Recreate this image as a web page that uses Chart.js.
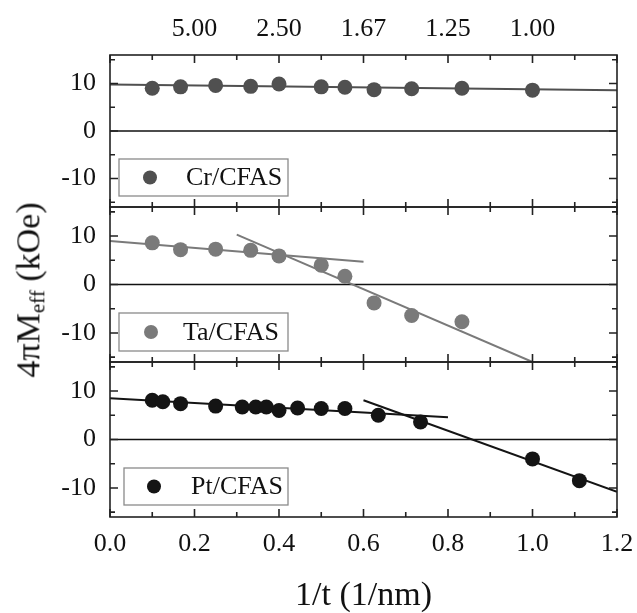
<!DOCTYPE html>
<html>
<head>
<meta charset="utf-8">
<script src="https://cdn.jsdelivr.net/npm/chart.js@4.4.1/dist/chart.umd.min.js"></script>
<style>
  body { margin: 0; background: #fff; }
  #wrap { position: relative; width: 637px; height: 613px; overflow: hidden; }
  canvas { position: absolute; left: 0; }
  #ytitle {
    position: absolute; left: 30px; top: 290px;
    transform: translate(-50%, -50%) rotate(-90deg);
    font: 34px "Liberation Serif", serif; color: #111; white-space: nowrap;
  }
  #ytitle sub { font-size: 0.62em; vertical-align: -0.25em; }
</style>
</head>
<body>
<div id="wrap">
  <canvas id="c1" width="637" height="212" style="top:0px"></canvas>
  <canvas id="c2" width="637" height="165" style="top:202px"></canvas>
  <canvas id="c3" width="637" height="256" style="top:357px"></canvas>
  <div id="ytitle">4πM<sub>eff</sub> (kOe)</div>
</div>
<script>
// data (x = 1/t in 1/nm, y = 4piMeff in kOe)
const crX = [0.1, 0.167, 0.25, 0.333, 0.4, 0.5, 0.556, 0.625, 0.714, 0.833, 1.0];
const crY = [9.0, 9.3, 9.6, 9.4, 9.9, 9.3, 9.2, 8.7, 8.9, 9.0, 8.6];
const crFitX = [0, 1.2];
const crFitY = [9.8, 8.6];

const taX = [0.1, 0.167, 0.25, 0.333, 0.4, 0.5, 0.556, 0.625, 0.714, 0.833];
const taY = [8.6, 7.2, 7.3, 7.05, 5.9, 4.0, 1.7, -3.8, -6.4, -7.7];
const taFit1X = [0, 0.6];
const taFit1Y = [9.0, 4.7];
const taFit2X = [0.3, 1.0];
const taFit2Y = [10.3, -16];

const ptX = [0.1, 0.125, 0.167, 0.25, 0.313, 0.345, 0.37, 0.4, 0.444, 0.5, 0.556, 0.635, 0.735, 1.0, 1.111];
const ptY = [8.1, 7.8, 7.4, 6.9, 6.7, 6.7, 6.7, 6.0, 6.5, 6.4, 6.4, 5.0, 3.6, -4.0, -8.5];
const ptFit1X = [0, 0.8];
const ptFit1Y = [8.5, 4.6];
const ptFit2X = [0.6, 1.2];
const ptFit2Y = [8.1, -10.8];

const xTicks = [0, 0.2, 0.4, 0.6, 0.8, 1.0, 1.2];
const xMinor = [0.1, 0.3, 0.5, 0.7, 0.9, 1.1];
const topTicks = [0.2, 0.4, 0.6, 0.8, 1.0];
const topLabels = ['5.00', '2.50', '1.67', '1.25', '1.00'];
const yTicks = [-10, 0, 10];
const yMinor = [-15, -5, 5, 15];

const serif = '"Liberation Serif", "Times New Roman", serif';
const pts = (xs, ys) => xs.map((x, i) => ({ x: x, y: ys[i] }));

// frame, inward ticks, zero line and legend box for each panel
const panelPlugin = {
  id: 'panel',
  beforeDatasetsDraw(chart) {
    const { ctx, chartArea: a, scales } = chart;
    const y0 = scales.y.getPixelForValue(0);
    ctx.save();
    ctx.strokeStyle = '#111';
    ctx.lineWidth = 1.6;
    ctx.beginPath();
    ctx.moveTo(a.left, y0);
    ctx.lineTo(a.right, y0);
    ctx.stroke();
    ctx.restore();
  },
  afterDatasetsDraw(chart, args, opts) {
    const { ctx, chartArea: a, scales } = chart;
    ctx.save();
    ctx.strokeStyle = '#222';
    ctx.lineWidth = 1.6;
    ctx.strokeRect(a.left, a.top, a.right - a.left, a.bottom - a.top);
    ctx.beginPath();
    const xt = (v, len) => {
      const px = scales.x.getPixelForValue(v);
      ctx.moveTo(px, a.top); ctx.lineTo(px, a.top + len);
      ctx.moveTo(px, a.bottom); ctx.lineTo(px, a.bottom - len);
    };
    const yt = (v, len) => {
      const py = scales.y.getPixelForValue(v);
      ctx.moveTo(a.left, py); ctx.lineTo(a.left + len, py);
      ctx.moveTo(a.right, py); ctx.lineTo(a.right - len, py);
    };
    xTicks.forEach(v => xt(v, 8));
    xMinor.forEach(v => xt(v, 5));
    yTicks.forEach(v => yt(v, 8));
    yMinor.forEach(v => yt(v, 5));
    ctx.stroke();

    // legend
    const b = opts.box;
    const bx = a.left + b.dx, by = a.top + b.dy;
    ctx.strokeStyle = '#8a8a8a';
    ctx.lineWidth = 1.3;
    ctx.strokeRect(bx, by, b.w, b.h);
    ctx.fillStyle = opts.color;
    ctx.beginPath();
    ctx.arc(bx + b.mx, by + b.h / 2, 7, 0, Math.PI * 2);
    ctx.fill();
    ctx.fillStyle = '#111';
    ctx.font = '26px ' + serif;
    ctx.textBaseline = 'middle';
    ctx.fillText(opts.label, bx + b.tx, by + b.h / 2 + 1);
    ctx.restore();
  }
};

function panel(id, opt) {
  const datasets = [{
    type: 'scatter',
    data: pts(opt.x, opt.y),
    backgroundColor: opt.color,
    borderWidth: 0,
    pointRadius: 7.5
  }];
  opt.fits.forEach(f => datasets.push({
    type: 'line',
    data: pts(f[0], f[1]),
    borderColor: opt.color,
    borderWidth: 2,
    pointRadius: 0,
    fill: false
  }));

  const scales = {
    x: {
      type: 'linear', min: 0, max: 1.2,
      display: opt.bottom,
      afterBuildTicks: s => { s.ticks = xTicks.map(v => ({ value: v })); },
      afterFit: s => {
        s.height = opt.bottom ? 96 : 0;
        s.paddingLeft = 0; s.paddingRight = 0;
      },
      grid: { display: false, drawTicks: false },
      border: { display: false },
      ticks: {
        padding: 12, color: '#111', maxRotation: 0,
        font: { family: serif, size: 26 },
        callback: v => v.toFixed(1)
      },
      title: {
        display: true, text: '1/t (1/nm)', color: '#111',
        font: { family: serif, size: 34, lineHeight: 1 },
        padding: { top: 0, bottom: 0 }
      }
    },
    y: {
      type: 'linear', min: -16, max: 16,
      afterBuildTicks: s => { s.ticks = yTicks.map(v => ({ value: v })); },
      afterFit: s => {
        s.width = 110;
        s.paddingTop = 0; s.paddingBottom = 0;
      },
      grid: { display: false, drawTicks: false },
      border: { display: false },
      ticks: { padding: 14, color: '#111', font: { family: serif, size: 26 } }
    }
  };
  if (opt.top) {
    scales.x2 = {
      type: 'linear', position: 'top', min: 0, max: 1.2,
      afterBuildTicks: s => { s.ticks = topTicks.map(v => ({ value: v })); },
      afterFit: s => {
        s.height = 55;
        s.paddingLeft = 0; s.paddingRight = 0;
      },
      grid: { display: false, drawTicks: false },
      border: { display: false },
      ticks: {
        padding: 10, color: '#111', maxRotation: 0,
        font: { family: serif, size: 26 },
        callback: v => topLabels[topTicks.indexOf(Math.round(v * 10) / 10)]
      }
    };
  }

  return new Chart(document.getElementById(id), {
    data: { datasets },
    options: {
      responsive: false,
      animation: false,
      events: [],
      layout: {
        autoPadding: false,
        padding: { left: 0, right: 20, top: opt.padTop, bottom: opt.padBottom }
      },
      scales,
      plugins: {
        legend: { display: false },
        tooltip: { enabled: false },
        panel: { color: opt.color, label: opt.label, box: opt.box }
      }
    },
    plugins: [panelPlugin]
  });
}

panel('c1', {
  x: crX, y: crY, fits: [[crFitX, crFitY]], color: '#505050', label: 'Cr/CFAS',
  top: true, bottom: false, padTop: 0, padBottom: 5,
  box: { dx: 9, dy: 104, w: 169, h: 37, mx: 31, tx: 67 }
});
panel('c2', {
  x: taX, y: taY, fits: [[taFit1X, taFit1Y], [taFit2X, taFit2Y]], color: '#7a7a7a', label: 'Ta/CFAS',
  top: false, bottom: false, padTop: 5, padBottom: 5,
  box: { dx: 9, dy: 106, w: 169, h: 38, mx: 32, tx: 64 }
});
panel('c3', {
  x: ptX, y: ptY, fits: [[ptFit1X, ptFit1Y], [ptFit2X, ptFit2Y]], color: '#141414', label: 'Pt/CFAS',
  top: false, bottom: true, padTop: 5, padBottom: 0,
  box: { dx: 14, dy: 106, w: 164, h: 37, mx: 30, tx: 67 }
});
</script>
</body>
</html>
